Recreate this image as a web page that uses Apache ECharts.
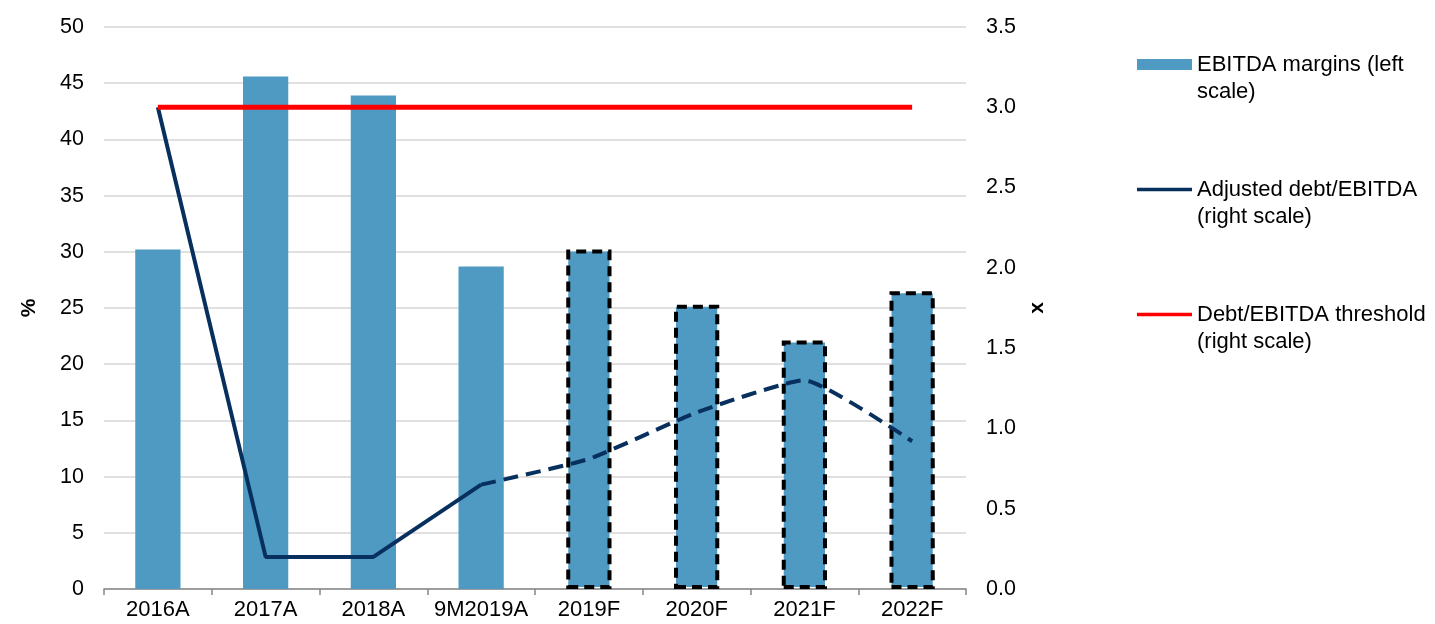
<!DOCTYPE html>
<html>
<head>
<meta charset="utf-8">
<script src="https://cdn.jsdelivr.net/npm/echarts@6/dist/echarts.min.js"></script>
<style>
  html, body { margin: 0; padding: 0; background: #fff; }
  #chart { width: 1435px; height: 624px; }
</style>
</head>
<body>
<div id="chart"></div>
<script>
// Periods on the category axis
const categories = ['2016A', '2017A', '2018A', '9M2019A', '2019F', '2020F', '2021F', '2022F'];
// EBITDA margin, % (left scale)
const ebitdaMargins = [30.2, 45.6, 43.9, 28.7, 30.2, 25.3, 22.1, 26.5];
// Adjusted debt/EBITDA, x (right scale)
const adjustedDebtEbitda = [3.0, 0.2, 0.2, 0.65, 0.81, 1.10, 1.30, 0.92];
// Covenant threshold, x (right scale)
const threshold = [3.0, 3.0, 3.0, 3.0, 3.0, 3.0, 3.0, 3.0];
// First forecast period (bars outlined, line dashed from the last actual onwards)
const firstForecast = 4;
const lastActual = 3;

const FONT = 'Liberation Sans, Arial, sans-serif';
const BAR = '#4f9ac3';
const NAVY = '#08305e';
const RED = '#ff0000';

const barData = ebitdaMargins.map((v, i) => i >= firstForecast
  ? { value: v, itemStyle: { borderColor: '#000', borderWidth: 4, borderType: [10, 6] } }
  : v);
const solidPart = adjustedDebtEbitda.map((v, i) => i <= lastActual ? v : '-');
const dashedPart = adjustedDebtEbitda.map((v, i) => i >= lastActual ? v : '-');

// Legend entries: icon sits level with the first text line
const legendText = { fontFamily: FONT, fontSize: 22, color: '#000', lineHeight: 27 };
function legendAt(top, name, icon) {
  return {
    data: [{ name: name, icon: icon }],
    orient: 'vertical', left: 1137, top: top, padding: 0,
    itemWidth: 55, itemHeight: 11, itemGap: 0,
    selectedMode: false,
    textStyle: legendText,
    formatter: n => ' \n' + n
  };
}
const LINE_ICON = 'path://M0,4 L55,4 L55,7.5 L0,7.5 Z';

const chart = echarts.init(document.getElementById('chart'), null, { renderer: 'canvas' });
chart.setOption({
  animation: false,
  backgroundColor: '#fff',
  grid: { left: 104, right: 469, top: 27, bottom: 35, containLabel: false },
  legend: [
    legendAt(24, 'EBITDA margins (left\nscale)', 'rect'),
    legendAt(149, 'Adjusted debt/EBITDA\n(right scale)', LINE_ICON),
    legendAt(274, 'Debt/EBITDA threshold\n(right scale)', LINE_ICON)
  ],
  xAxis: {
    type: 'category',
    data: categories,
    boundaryGap: true,
    axisLine: { lineStyle: { color: '#868686', width: 1.5 } },
    axisTick: { show: true, interval: 0, length: 6, lineStyle: { color: '#868686', width: 1.5 } },
    axisLabel: { interval: 0, fontFamily: FONT, fontSize: 22, color: '#000', margin: 10 }
  },
  yAxis: [
    {
      type: 'value', min: 0, max: 50, interval: 5,
      name: '%', nameLocation: 'middle', nameGap: 64, nameRotate: 90,
      nameTextStyle: { fontFamily: FONT, fontSize: 21, fontWeight: 'bold', color: '#000' },
      axisLine: { show: false }, axisTick: { show: false },
      axisLabel: { fontFamily: FONT, fontSize: 21.5, color: '#000', margin: 20 },
      splitLine: { lineStyle: { color: '#d6d6d6', width: 1.5 } }
    },
    {
      type: 'value', min: 0, max: 3.5, interval: 0.5, position: 'right',
      name: 'x', nameLocation: 'middle', nameGap: 60, nameRotate: 90,
      nameTextStyle: { fontFamily: FONT, fontSize: 21, fontWeight: 'bold', color: '#000' },
      axisLine: { show: false }, axisTick: { show: false },
      axisLabel: { fontFamily: FONT, fontSize: 21.5, color: '#000', margin: 20, formatter: v => v.toFixed(1) },
      splitLine: { show: false }
    }
  ],
  series: [
    {
      name: 'EBITDA margins (left\nscale)',
      type: 'bar', yAxisIndex: 0,
      data: barData,
      barWidth: '42%',
      itemStyle: { color: BAR }
    },
    {
      name: 'Adjusted debt/EBITDA\n(right scale)',
      type: 'line', yAxisIndex: 1,
      data: solidPart,
      symbol: 'none',
      lineStyle: { color: NAVY, width: 4 },
      itemStyle: { color: NAVY },
      z: 5
    },
    {
      name: 'Adjusted debt/EBITDA\n(right scale)',
      type: 'line', yAxisIndex: 1,
      data: dashedPart,
      symbol: 'none',
      smooth: 0.15,
      lineStyle: { color: NAVY, width: 4, type: [15, 8] },
      itemStyle: { color: NAVY },
      z: 5
    },
    {
      name: 'Debt/EBITDA threshold\n(right scale)',
      type: 'line', yAxisIndex: 1,
      data: threshold,
      symbol: 'none',
      lineStyle: { color: RED, width: 5 },
      itemStyle: { color: RED },
      z: 6
    }
  ]
});
</script>
</body>
</html>
